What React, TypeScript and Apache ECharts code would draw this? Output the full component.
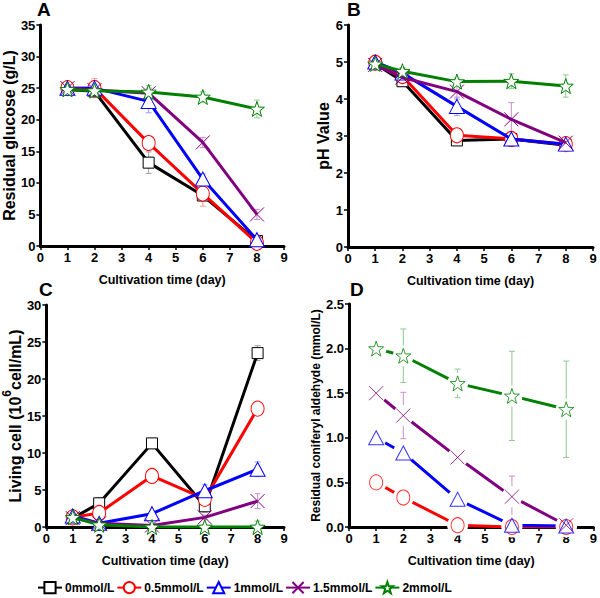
import React, { useEffect, useRef } from "react";
import * as echarts from "echarts";

const days = [1, 2, 4, 6, 8];
const seriesNames = ["0mmol/L", "0.5mmol/L", "1mmol/L", "1.5mmol/L", "2mmol/L"];
const colors = ["#000000", "#ff0000", "#0000ff", "#800080", "#008000"];
const errColors = ["#a0a0a0", "#ff9c9c", "#9c9cff", "#c890c8", "#90c890"];

// Panel A: residual glucose (g/L)
const glucose0 = [24.8, 24.5, 13.2, 8.0, 0.8];
const glucose05 = [25.0, 25.0, 16.3, 8.3, 0.5];
const glucose1 = [25.0, 25.0, 22.9, 10.6, 1.0];
const glucose15 = [25.0, 24.7, 24.2, 16.4, 5.0];
const glucose2 = [24.8, 24.6, 24.4, 23.6, 21.7];
const glucoseErr0 = [0.5, 1.0, 1.7, 0.8, 0.3];
const glucoseErr05 = [0.8, 1.5, 1.0, 2.0, 0.3];
const glucoseErr1 = [0.8, 1.2, 1.8, 0.8, 0.3];
const glucoseErr15 = [0.6, 0.8, 0.8, 0.8, 0.8];
const glucoseErr2 = [0.6, 0.8, 1.0, 0.8, 1.4];

// Panel B: pH value
const ph0 = [4.95, 4.48, 2.88, 2.92, 2.75];
const ph05 = [4.98, 4.62, 3.02, 2.92, 2.78];
const ph1 = [5.0, 4.7, 3.8, 2.92, 2.78];
const ph15 = [4.92, 4.58, 4.2, 3.45, 2.82];
const ph2 = [4.95, 4.75, 4.47, 4.48, 4.35];
const phErr0 = [0.1, 0.1, 0.1, 0.1, 0.05];
const phErr05 = [0.1, 0.1, 0.12, 0.2, 0.05];
const phErr1 = [0.1, 0.1, 0.25, 0.1, 0.05];
const phErr15 = [0.1, 0.1, 0.2, 0.45, 0.1];
const phErr2 = [0.1, 0.1, 0.1, 0.2, 0.3];

// Panel C: living cell (10^6 cell/mL)
const cell0 = [1.2, 3.2, 11.3, 2.8, 23.5];
const cell05 = [1.3, 1.9, 6.9, 3.8, 16.0];
const cell1 = [1.5, 0.5, 1.8, 4.9, 7.8];
const cell15 = [1.2, 0.5, 0.2, 1.3, 3.5];
const cell2 = [1.3, 0.3, 0.0, 0.0, 0.0];
const cellErr0 = [0.3, 0.8, 0.5, 0.8, 1.0];
const cellErr05 = [0.3, 0.5, 0.3, 0.8, 0.3];
const cellErr1 = [0.3, 0.3, 0.3, 0.8, 1.0];
const cellErr15 = [0.3, 0.2, 0.2, 0.3, 1.0];
const cellErr2 = [0.3, 0.2, 0.1, 0.2, 0.8];

// Panel D: residual coniferyl aldehyde (mmol/L)
const ald05 = [0.5, 0.33, 0.02, 0.0, 0.0];
const ald1 = [1.0, 0.83, 0.31, 0.02, 0.01];
const ald15 = [1.5, 1.25, 0.78, 0.34, 0.02];
const ald2 = [2.0, 1.92, 1.61, 1.47, 1.32];
const aldErr05 = [0.01, 0.02, 0.02, 0.0, 0.0];
const aldErr1 = [0.02, 0.1, 0.1, 0.02, 0.01];
const aldErr15 = [0.02, 0.26, 0.03, 0.23, 0.02];
const aldErr2 = [0.02, 0.3, 0.16, 0.5, 0.54];

const xTicks = { min: 0, max: 9, interval: 1 };

const STAR =
  "path://M10,0 L12.351,6.764 L19.511,6.910 L13.804,11.236 L15.878,18.090 L10,14 L4.122,18.090 L6.196,11.236 L0.489,6.910 L7.649,6.764 Z";
const CROSS = "path://M0,0 L20,20 M20,0 L0,20";
const symbols = ["rect", "circle", "triangle", CROSS, STAR];
const symbolSizes: any[] = [[11, 11], [13, 15], [15, 14], [14, 14], [15, 15]];

const WIDE = '"Liberation Sans", Arial, sans-serif';

export default function App() {
  const ref = useRef<HTMLDivElement>(null);
  useEffect(() => {
    if (!ref.current) return;
    const chart = echarts.init(ref.current, null, { renderer: "svg" });

    const grids = [
      { left: 39, top: 25, width: 245, height: 221 },
      { left: 348, top: 25, width: 245, height: 222 },
      { left: 39, top: 305, width: 245, height: 222 },
      { left: 349, top: 304, width: 245, height: 223 },
    ];

    const axisCommon = {
      axisLine: { show: true, lineStyle: { color: "#000", width: 3 } },
      axisTick: { show: true, inside: false, length: 4, lineStyle: { color: "#000", width: 1.5 } },
      splitLine: { show: false },
      axisLabel: { color: "#000", fontFamily: WIDE, fontWeight: "bold", fontSize: 13, margin: 5 },
    };

    const xAxes = grids.map((_, i) => ({
      type: "value",
      gridIndex: i,
      ...xTicks,
      ...axisCommon,
      name: "Cultivation time (day)",
      nameLocation: "middle",
      nameGap: 27,
      nameTextStyle: { color: "#000", fontFamily: WIDE, fontWeight: "bold", fontSize: 12.5 },
    }));

    const yAxes = [
      {
        type: "value", gridIndex: 0, min: 0, max: 35, interval: 5, ...axisCommon,
        name: "Residual glucose (g/L)", nameLocation: "middle", nameGap: 22,
        nameTextStyle: { color: "#000", fontFamily: WIDE, fontWeight: "bold", fontSize: 16 },
      },
      {
        type: "value", gridIndex: 1, min: 0, max: 6, interval: 1, ...axisCommon,
        name: "pH Value", nameLocation: "middle", nameGap: 16,
        nameTextStyle: { color: "#000", fontFamily: WIDE, fontWeight: "bold", fontSize: 16 },
      },
      {
        type: "value", gridIndex: 2, min: 0, max: 30, interval: 5, ...axisCommon,
        name: "{n|Living cell (10}{s|6}{n|cell/mL)}", nameLocation: "middle", nameGap: 16,
        nameTextStyle: {
          color: "#000", fontFamily: WIDE, fontWeight: "bold", fontSize: 16,
          rich: {
            n: { fontFamily: WIDE, fontWeight: "bold", fontSize: 16, color: "#000", lineHeight: 22, verticalAlign: "bottom" },
            s: { fontFamily: WIDE, fontWeight: "bold", fontSize: 12, color: "#000", lineHeight: 22, verticalAlign: "top" },
          },
        },
      },
      {
        type: "value", gridIndex: 3, min: 0, max: 2.5, interval: 0.5, ...axisCommon,
        axisLabel: { ...axisCommon.axisLabel, formatter: (v: number) => v.toFixed(1) },
        name: "Residual coniferyl aldehyde (mmol/L)", nameLocation: "middle", nameGap: 26,
        nameTextStyle: { color: "#000", fontFamily: WIDE, fontWeight: "bold", fontSize: 12 },
      },
    ];

    const panels = [
      { values: [glucose0, glucose05, glucose1, glucose15, glucose2], errs: [glucoseErr0, glucoseErr05, glucoseErr1, glucoseErr15, glucoseErr2] },
      { values: [ph0, ph05, ph1, ph15, ph2], errs: [phErr0, phErr05, phErr1, phErr15, phErr2] },
      { values: [cell0, cell05, cell1, cell15, cell2], errs: [cellErr0, cellErr05, cellErr1, cellErr15, cellErr2] },
      { values: [null, ald05, ald1, ald15, ald2], errs: [null, aldErr05, aldErr1, aldErr15, aldErr2] },
    ];

    const series: any[] = [];
    const markerStyle = (k: number) => ({ color: "#fff", borderColor: colors[k], borderWidth: 1 });

    panels.forEach((p, pi) => {
      p.values.forEach((vals, k) => {
        if (!vals) return;
        const data = days.map((d, j) => [d, vals[j]]);
        const err = p.errs[k] as number[];
        series.push({
          type: "custom",
          name: "err-" + pi + "-" + k,
          xAxisIndex: pi,
          yAxisIndex: pi,
          z: 1,
          silent: true,
          data: days.map((d, j) => [d, vals[j], err[j]]),
          renderItem: (params: any, api: any) => {
            const x = api.value(0);
            const y = api.value(1);
            const e = api.value(2);
            const top = api.coord([x, y + e]);
            const bot = api.coord([x, Math.max(0, y - e)]);
            const w = 3;
            const st = { stroke: errColors[k], lineWidth: 1 };
            return {
              type: "group",
              children: [
                { type: "line", shape: { x1: top[0], y1: top[1], x2: bot[0], y2: bot[1] }, style: st },
                { type: "line", shape: { x1: top[0] - w, y1: top[1], x2: top[0] + w, y2: top[1] }, style: st },
                { type: "line", shape: { x1: bot[0] - w, y1: bot[1], x2: bot[0] + w, y2: bot[1] }, style: st },
              ],
            };
          },
        });
        if (pi < 3) {
          series.push({
            type: "line",
            name: seriesNames[k],
            xAxisIndex: pi,
            yAxisIndex: pi,
            z: 2 + k * 0.1,
            data,
            symbol: symbols[k],
            symbolSize: symbolSizes[k],
            showSymbol: true,
            lineStyle: { color: colors[k], width: 3 },
            itemStyle: markerStyle(k),
            emphasis: { disabled: true },
          });
        } else {
          series.push({
            type: "line",
            name: seriesNames[k],
            xAxisIndex: pi,
            yAxisIndex: pi,
            z: 2,
            data,
            showSymbol: false,
            symbol: "none",
            lineStyle: { color: colors[k], width: 3 },
            itemStyle: { color: colors[k] },
            emphasis: { disabled: true },
          });
          series.push({
            type: "scatter",
            name: "halo-" + k,
            xAxisIndex: pi,
            yAxisIndex: pi,
            z: 3,
            silent: true,
            data,
            symbol: "circle",
            symbolSize: 21,
            itemStyle: { color: "#fff", opacity: 1 },
          });
          series.push({
            type: "scatter",
            name: seriesNames[k],
            xAxisIndex: pi,
            yAxisIndex: pi,
            z: 4,
            data,
            symbol: symbols[k],
            symbolSize: symbolSizes[k],
            itemStyle: markerStyle(k),
            emphasis: { disabled: true },
          });
        }
      });
    });

    const label = (t: string, left: number, top: number) => ({
      type: "text",
      left,
      top,
      style: { text: t, fill: "#000", font: "bold 19px " + WIDE },
    });

    chart.setOption({
      animation: false,
      backgroundColor: "#fff",
      grid: grids,
      xAxis: xAxes,
      yAxis: yAxes,
      legend: {
        data: seriesNames,
        left: 37,
        top: 581,
        itemWidth: 24,
        itemHeight: 14,
        itemGap: 2,
        padding: 0,
        textStyle: { color: "#000", fontFamily: WIDE, fontWeight: "bold", fontSize: 12, padding: [0, 0, 0, -2] },
      },
      graphic: [label("A", 37, 0), label("B", 347, 0), label("C", 39, 280), label("D", 350, 280)],
      series,
    });
    return () => chart.dispose();
  }, []);
  return (
    <div
      ref={ref}
      style={{ position: "absolute", left: 0, top: 0, width: 600, height: 598, background: "#fff" }}
    />
  );
}
